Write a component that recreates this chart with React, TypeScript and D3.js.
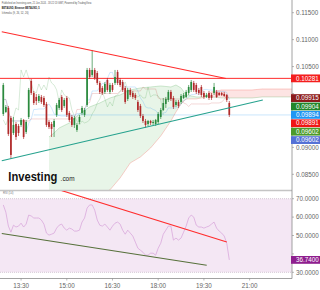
import React from 'react';
import * as d3 from 'd3';

// ---------- data ----------
const headerLines = [
  'Published on Investing.com, 21 Jun 2024 - 18:22:13 GMT, Powered by TradingView.',
  'BETAUSD, Binance:BETAUSD, 5',
  'Ichimoku (9, 26, 52, 26)',
];
const startTime = [2024, 5, 21, 12, 55];
const barMinutes = 5;

const opens = [
  0.0962, 0.09657, 0.09732, 0.09546, 0.09267, 0.09434, 0.09397, 0.09416, 0.09509, 0.09286,
  0.09564, 0.10233, 0.1001, 0.09936, 0.09861, 0.09936, 0.09917, 0.09806, 0.09472, 0.09434,
  0.09379, 0.09602, 0.09732, 0.09936, 0.09769, 0.09917, 0.09639, 0.09564, 0.09416, 0.09323,
  0.09472, 0.09639, 0.09602, 0.09787, 0.10437, 0.10344, 0.10437, 0.10381, 0.10196, 0.10103,
  0.10029, 0.10251, 0.10029, 0.10158, 0.10196, 0.104, 0.10251, 0.10214, 0.10103, 0.09899,
  0.10066, 0.1001, 0.09973, 0.09843, 0.09769, 0.09583, 0.0949, 0.09434, 0.0949, 0.09453,
  0.09434, 0.09472, 0.09564, 0.09694, 0.09806, 0.0988, 0.10029, 0.09917, 0.09787, 0.09843,
  0.09843, 0.09917, 0.09936, 0.1001, 0.10066, 0.10196, 0.10158, 0.10066, 0.10121, 0.1001,
  0.09936, 0.1001, 0.09973, 0.1001, 0.10029, 0.1001, 0.1001, 0.09991, 0.09973, 0.09824,
];
const closes = [
  0.10158, 0.0975, 0.09249, 0.08859, 0.09416, 0.09193, 0.09267, 0.09509, 0.09193, 0.09472,
  0.10066, 0.1001, 0.09824, 0.09861, 0.09954, 0.09843, 0.09787, 0.09416, 0.09379, 0.09342,
  0.0949, 0.09787, 0.0988, 0.09694, 0.0988, 0.09602, 0.09509, 0.09416, 0.09546, 0.09416,
  0.09564, 0.09732, 0.09694, 0.10437, 0.10307, 0.10437, 0.10288, 0.10196, 0.10029, 0.1001,
  0.10177, 0.10066, 0.10158, 0.10066, 0.10307, 0.10196, 0.10158, 0.10066, 0.09843, 0.10066,
  0.09973, 0.09936, 0.09917, 0.09694, 0.09583, 0.0949, 0.09416, 0.0949, 0.09453, 0.09472,
  0.09509, 0.0962, 0.09694, 0.09824, 0.09899, 0.10029, 0.09899, 0.0975, 0.09843, 0.09769,
  0.09954, 0.09973, 0.10029, 0.10121, 0.10214, 0.10066, 0.10029, 0.1001, 0.09973, 0.09936,
  0.09973, 0.09917, 0.09917, 0.10121, 0.09936, 0.09973, 0.09973, 0.09954, 0.0988, 0.09602,
];
const highs = [
  0.10196, 0.09787, 0.09769, 0.09583, 0.09564, 0.09472, 0.09434, 0.09546, 0.09527, 0.09509,
  0.10103, 0.1027, 0.10047, 0.09991, 0.09991, 0.09973, 0.09954, 0.09843, 0.09509, 0.09472,
  0.09527, 0.09824, 0.09917, 0.09973, 0.09917, 0.09954, 0.09676, 0.09602, 0.09583, 0.09453,
  0.09602, 0.09769, 0.09732, 0.10474, 0.10474, 0.10808, 0.10474, 0.10418, 0.10233, 0.1014,
  0.10214, 0.10288, 0.10196, 0.10196, 0.10437, 0.10437, 0.10288, 0.10251, 0.1014, 0.10103,
  0.10103, 0.10047, 0.1001, 0.0988, 0.09806, 0.0962, 0.09527, 0.09509, 0.09509, 0.09509,
  0.09527, 0.09657, 0.09732, 0.09917, 0.09936, 0.10066, 0.10066, 0.09954, 0.0988, 0.0988,
  0.09991, 0.1001, 0.10066, 0.10158, 0.10251, 0.10233, 0.10196, 0.10103, 0.10158, 0.10047,
  0.1001, 0.10047, 0.1001, 0.10196, 0.10066, 0.10029, 0.10029, 0.10029, 0.09991, 0.09861,
];
const lows = [
  0.09583, 0.09639, 0.09212, 0.08785, 0.0923, 0.09138, 0.09212, 0.09379, 0.09156, 0.09249,
  0.09527, 0.09973, 0.09787, 0.09787, 0.09824, 0.09806, 0.0975, 0.09379, 0.09342, 0.09193,
  0.09193, 0.09564, 0.09694, 0.09657, 0.09732, 0.09564, 0.09472, 0.09379, 0.0936, 0.09286,
  0.09434, 0.09602, 0.09564, 0.0975, 0.1027, 0.10307, 0.10251, 0.10158, 0.09991, 0.09973,
  0.09991, 0.10029, 0.09991, 0.10029, 0.10158, 0.10158, 0.10121, 0.10029, 0.09806, 0.09861,
  0.09936, 0.09899, 0.0988, 0.09657, 0.09546, 0.09453, 0.0936, 0.09397, 0.09416, 0.09416,
  0.09397, 0.09434, 0.09527, 0.09676, 0.09732, 0.09843, 0.09861, 0.09713, 0.0975, 0.09732,
  0.09806, 0.09899, 0.09917, 0.09973, 0.10029, 0.10029, 0.09991, 0.09973, 0.09936, 0.09899,
  0.09917, 0.0988, 0.0988, 0.09973, 0.09917, 0.09954, 0.09954, 0.09936, 0.09843, 0.09564,
];

// Ichimoku cloud (leading spans, bar index incl. 26-bar projection)
const spanIndex = [18, 20, 22, 26, 30, 34, 38, 42, 46, 50, 54, 58, 62, 66, 68, 70, 72, 76, 79, 82, 86, 90, 94, 98, 102, 106, 110, 115];
const spanA = [0.09193, 0.09267, 0.0936, 0.09453, 0.0962, 0.0975, 0.09824, 0.09917, 0.09973, 0.10066, 0.10103, 0.10121, 0.1014, 0.10121, 0.10158, 0.10103, 0.09973, 0.09936, 0.09936, 0.09936, 0.09917, 0.09917, 0.09917, 0.09917, 0.09936, 0.09936, 0.09936, 0.09936];
const spanB = [0.08024, 0.08024, 0.08043, 0.08061, 0.08061, 0.08098, 0.08135, 0.0821, 0.08432, 0.08711, 0.08822, 0.08989, 0.09212, 0.0949, 0.09657, 0.09806, 0.09899, 0.09899, 0.09926, 0.10029, 0.10066, 0.10066, 0.10066, 0.10066, 0.10084, 0.10084, 0.10084, 0.10084];

const rsiValues = [
  66.6, 62.7, 55.1, 51.8, 55.6, 54.6, 55.1, 56.7, 54.6, 56.2,
  61.1, 60.6, 59.5, 59.5, 59.5, 58.4, 56.2, 51.3, 50.2, 50.7,
  51.3, 54.0, 55.6, 56.2, 54.0, 52.9, 54.0, 53.5, 52.4, 52.4,
  52.9, 57.3, 59.5, 64.9, 66.6, 66.6, 63.8, 58.4, 55.6, 55.1,
  56.2, 54.6, 52.9, 55.1, 56.7, 57.3, 56.2, 52.9, 50.7, 52.9,
  51.3, 49.7, 46.4, 43.1, 42.0, 40.9, 39.3, 39.3, 40.4, 40.4,
  39.3, 43.1, 45.8, 50.7, 52.9, 55.1, 55.1, 47.5, 48.6, 47.5,
  48.6, 51.8, 55.1, 59.5, 61.1, 60.0, 55.6, 54.6, 54.6, 54.0,
  54.6, 55.1, 56.2, 57.3, 54.0, 52.4, 51.3, 49.7, 45.8, 36.74,
];

const priceTicks = [0.115, 0.11, 0.105, 0.1, 0.095, 0.09, 0.085];
const rsiTicks = [70, 60, 50, 40, 30];
const timeTicks = ['13:30', '15:00', '16:30', '18:00', '19:30', '21:00'];

const priceLabels = [
  { value: 0.10281, color: '#f41e1e' },
  { value: 0.09915, color: '#8c1b1b' },
  { value: 0.09904, color: '#22862a' },
  { value: 0.09894, color: '#2196f3' },
  { value: 0.09891, color: '#f01515' },
  { value: 0.09602, color: '#4c9a2a' },
  { value: 0.09602, color: '#5470d6' },
];
const rsiLabel = { value: 36.74, color: '#8e1e8e' };

const resistanceLevel = 0.10281;
const supportLevel = { fromIndex: 12, value: 0.09602 };
const topTrend: [number, number][] = [[-0.6, 0.11147], [87.7, 0.10278]];
const bottomTrend: [number, number][] = [[-0.6, 0.08753], [102.2, 0.09879]];
const rsiRedTrend: [number, number][] = [[22.3, 74.7], [88, 46.5]];
const rsiGreenTrend: [number, number][] = [[-0.6, 51.1], [80.1, 33.8]];

// ---------- chart ----------
const FONT = '"Liberation Sans", Arial, sans-serif';

export default function App() {
  const t0 = new Date(startTime[0], startTime[1], startTime[2], startTime[3], startTime[4]).getTime();
  const tAt = (i: number) => new Date(t0 + i * barMinutes * 60000);
  const n = closes.length;
  const x = d3.scaleTime().domain([tAt(0), tAt(n - 1)]).range([3.3, 229.3]);
  const xi = (i: number) => x(tAt(i));
  const y = d3.scaleLinear().domain([0.085, 0.115]).range([174.3, 12.7]);
  const yr = d3.scaleLinear().domain([30, 70]).range([272.3, 198.7]);

  const plotRight = 292;
  const mainBottom = 190;
  const axisY = 278.5;

  // Ichimoku lines derived from the candles
  const midRange = (i: number, len: number) => {
    const s = Math.max(0, i - len + 1);
    const hh = d3.max(highs.slice(s, i + 1)) as number;
    const ll = d3.min(lows.slice(s, i + 1)) as number;
    return (hh + ll) / 2;
  };
  const tenkan = closes.map((_, i) => [i, midRange(i, 9)] as [number, number]);
  const kijun = closes.map((_, i) => [i, midRange(i, 26)] as [number, number]);
  const lagging = closes.slice(26).map((c, k) => [k, c] as [number, number]);

  const pLine = d3.line<[number, number]>().x(d => xi(d[0])).y(d => y(d[1]));
  const rLine = d3.line<[number, number]>().x(d => xi(d[0])).y(d => yr(d[1]));

  const cloud = spanIndex.map((i, k) => ({ i, a: spanA[k], b: spanB[k] }));
  type C = { i: number; a: number; b: number };
  const greenArea = d3.area<C>().x(d => xi(d.i)).y0(d => y(d.b)).y1(d => y(Math.max(d.a, d.b)));
  const redArea = d3.area<C>().x(d => xi(d.i)).y0(d => y(d.a)).y1(d => y(Math.max(d.a, d.b)));
  const spanALine = d3.line<C>().x(d => xi(d.i)).y(d => y(d.a));
  const spanBLine = d3.line<C>().x(d => xi(d.i)).y(d => y(d.b));

  // stacked price labels
  const sorted = priceLabels.map((l, k) => ({ ...l, k })).sort((p, q) => q.value - p.value || p.k - q.k);
  const gap = 8.4;
  const boxH = 7.8;
  let prev = -Infinity;
  const placed = sorted.map(l => {
    const py = Math.max(y(l.value), prev + gap);
    prev = py;
    return { ...l, py };
  });
  const covered = (ty: number) => placed.some(l => Math.abs(l.py - ty) < boxH / 2 + 2.5);

  const green = '#2b8a3e';
  const red = '#b02a2a';
  const bodyW = 1.7;

  return (
    <svg width={320} height={290} style={{ position: 'absolute', left: 0, top: 0, background: '#fff' }} fontFamily={FONT}>
      <defs>
        <clipPath id="mainClip"><rect x={0} y={0} width={plotRight} height={mainBottom} /></clipPath>
        <clipPath id="rsiClip"><rect x={0} y={191} width={plotRight} height={axisY - 191} /></clipPath>
      </defs>
      <rect x={0} y={0} width={320} height={290} fill="#fff" />

      {/* header */}
      <text x={1.7} y={4.4} fontSize={3} fill="#555" textLength={90} lengthAdjust="spacingAndGlyphs">{headerLines[0]}</text>
      <text x={1.7} y={8.6} fontSize={3} fontWeight="bold" fill="#222" textLength={38} lengthAdjust="spacingAndGlyphs">{headerLines[1]}</text>
      <text x={1.7} y={14.4} fontSize={3} fill="#555" textLength={27} lengthAdjust="spacingAndGlyphs">{headerLines[2]}</text>

      <g clipPath="url(#mainClip)">
        {/* cloud */}
        <path d={greenArea(cloud) || ''} fill="rgba(76,175,80,0.13)" />
        <path d={redArea(cloud) || ''} fill="rgba(244,67,54,0.14)" />
        <path d={spanALine(cloud) || ''} fill="none" stroke="rgba(67,160,71,0.35)" strokeWidth={0.7} />
        <path d={spanBLine(cloud) || ''} fill="none" stroke="rgba(244,67,54,0.35)" strokeWidth={0.7} />
        {/* ichimoku lines */}
        <path d={pLine(tenkan) || ''} fill="none" stroke="rgba(33,150,243,0.3)" strokeWidth={0.7} />
        <path d={pLine(kijun) || ''} fill="none" stroke="rgba(183,28,28,0.25)" strokeWidth={0.7} />
        <path d={pLine(lagging) || ''} fill="none" stroke="rgba(67,160,71,0.3)" strokeWidth={0.7} />

        {/* horizontal levels */}
        <line x1={xi(supportLevel.fromIndex)} x2={plotRight} y1={y(supportLevel.value)} y2={y(supportLevel.value)} stroke="rgba(33,150,243,0.3)" strokeWidth={0.8} />
        <line x1={0} x2={plotRight} y1={y(resistanceLevel)} y2={y(resistanceLevel)} stroke="#ff2b2b" strokeWidth={1} />

        {/* candles */}
        {closes.map((c, i) => {
          const o = opens[i];
          const col = c >= o ? green : red;
          const cx = xi(i);
          const top = y(Math.max(o, c));
          const bot = y(Math.min(o, c));
          return (
            <g key={i}>
              <line x1={cx} x2={cx} y1={y(highs[i])} y2={y(lows[i])} stroke={col} strokeWidth={0.7} />
              <rect x={cx - bodyW / 2} y={top} width={bodyW} height={Math.max(0.6, bot - top)} fill={col} />
            </g>
          );
        })}

        {/* trend lines */}
        <path d={pLine(topTrend) || ''} fill="none" stroke="#ff2d2d" strokeWidth={1.1} />
        <path d={pLine(bottomTrend) || ''} fill="none" stroke="#26a28e" strokeWidth={1.1} />

        {/* watermark */}
        <text x={8.3} y={180.5} fontSize={12} fontWeight="bold" fill="#111" textLength={49} lengthAdjust="spacingAndGlyphs">Investing</text>
        <text x={60.6} y={180.5} fontSize={7.4} fill="#222" textLength={14} lengthAdjust="spacingAndGlyphs">.com</text>
      </g>

      {/* separator */}
      <line x1={0} x2={plotRight} y1={190.5} y2={190.5} stroke="#c4c4c4" strokeWidth={1.4} />

      {/* RSI panel */}
      <g clipPath="url(#rsiClip)">
        <rect x={0} y={yr(70)} width={plotRight} height={yr(30) - yr(70)} fill="#f4e7f4" />
        <line x1={0} x2={plotRight} y1={yr(70)} y2={yr(70)} stroke="#b8a8b8" strokeWidth={0.6} strokeDasharray="1,1" />
        <line x1={0} x2={plotRight} y1={yr(30)} y2={yr(30)} stroke="#b8a8b8" strokeWidth={0.6} strokeDasharray="1,1" />
        <path d={rLine(rsiValues.map((v, i) => [i, v] as [number, number])) || ''} fill="none" stroke="#d9a8dc" strokeWidth={0.8} />
        <path d={rLine(rsiRedTrend) || ''} fill="none" stroke="#ff2d2d" strokeWidth={1.1} />
        <path d={rLine(rsiGreenTrend) || ''} fill="none" stroke="#56703a" strokeWidth={1.1} />
      </g>
      <text x={3} y={194.3} fontSize={2.8} fill="#777">RSI (14)</text>

      {/* axes */}
      <line x1={plotRight} x2={plotRight} y1={0} y2={axisY} stroke="#8a8a8a" strokeWidth={0.8} />
      <line x1={0} x2={plotRight} y1={axisY} y2={axisY} stroke="#8a8a8a" strokeWidth={0.8} />
      {priceTicks.map(t => (
        <g key={t}>
          <line x1={plotRight} x2={plotRight + 2} y1={y(t)} y2={y(t)} stroke="#8a8a8a" strokeWidth={0.6} />
          {!covered(y(t)) && <text x={296} y={y(t) + 2.2} fontSize={6.3} fill="#666">{t.toFixed(5)}</text>}
        </g>
      ))}
      {rsiTicks.map(t => (
        <g key={t}>
          <line x1={plotRight} x2={plotRight + 2} y1={yr(t)} y2={yr(t)} stroke="#8a8a8a" strokeWidth={0.6} />
          {Math.abs(yr(t) - yr(rsiLabel.value)) > boxH / 2 + 2.5 && <text x={296} y={yr(t) + 2.2} fontSize={6.3} fill="#666">{t.toFixed(4)}</text>}
        </g>
      ))}
      {timeTicks.map(s => {
        const [h, m] = s.split(':').map(Number);
        const tx = x(new Date(startTime[0], startTime[1], startTime[2], h, m));
        return (
          <g key={s}>
            <line x1={tx} x2={tx} y1={axisY} y2={axisY + 2} stroke="#8a8a8a" strokeWidth={0.6} />
            <text x={tx} y={287.6} fontSize={6.3} fill="#666" textAnchor="middle">{s}</text>
          </g>
        );
      })}

      {/* price labels */}
      {placed.map((l, k) => (
        <g key={k}>
          <rect x={291} y={l.py - boxH / 2} width={29} height={boxH} fill={l.color} />
          <text x={296} y={l.py + 2.2} fontSize={6.3} fill="#fff">{l.value.toFixed(5)}</text>
        </g>
      ))}
      <rect x={291} y={yr(rsiLabel.value) - boxH / 2} width={29} height={boxH} fill={rsiLabel.color} />
      <text x={296} y={yr(rsiLabel.value) + 2.2} fontSize={6.3} fill="#fff">{rsiLabel.value.toFixed(4)}</text>
    </svg>
  );
}
